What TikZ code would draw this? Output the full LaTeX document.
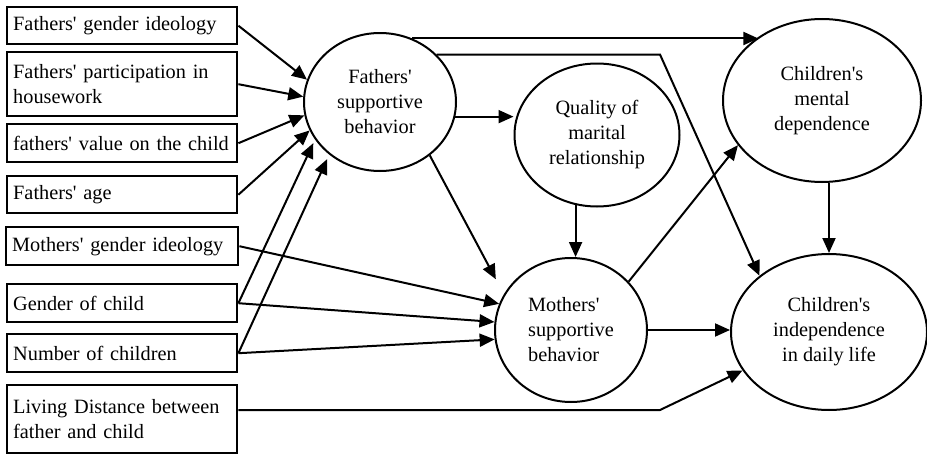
\documentclass[tikz,border=0pt]{standalone}
\usepackage{fontspec}
\setmainfont{Liberation Serif}
\usetikzlibrary{shapes.geometric,arrows.meta,calc}
\newcommand\apo{\textquotesingle}
\begin{document}
\begin{tikzpicture}[x=1pt,y=-1pt,
  txt/.style={font=\fontsize{20.3}{25}\selectfont},
  box/.style={txt, draw, line width=2.4pt, anchor=north west, minimum width=230pt,
    text width=218pt, align=left, inner xsep=6pt, inner ysep=0pt,
    execute at begin node={\hyphenpenalty=10000\exhyphenpenalty=10000}},
  ell/.style={txt, draw, ellipse, line width=2pt, align=center, inner sep=0pt},
  arr/.style={line width=2pt, -{Triangle[length=15pt,width=13pt]}},
  ln/.style={line width=2pt}]
\useasboundingbox (0,0) rectangle (927,455);

% boxes
\node[box, minimum height=37pt] (b1) at (6,6) {Fathers\apo\ gender ideology};
\node[box, minimum height=64pt] (b2) at (6,51) {Fathers\apo\ participation in\\housework};
\node[box, minimum height=38pt] (b3) at (6,123) {\mbox{fathers\apo\ value on the child}};
\node[box, minimum height=37pt] (b4) at (6,175) {Fathers\apo\ age};
\node[box, minimum height=38pt, minimum width=232pt, text width=220pt] (b5) at (5,226) {\mbox{Mothers\apo\ gender ideology}};
\node[box, minimum height=38pt] (b6) at (6,283) {Gender of child};
\node[box, minimum height=38pt] (b7) at (6,333) {Number of children};
\node[box, minimum height=68pt] (b8) at (6,384) {Living Distance between\\father and child\\[-6pt]};

% ellipses
\node[ell, minimum width=152pt, minimum height=138pt] (fs) at (380,102) {Fathers\apo\\supportive\\behavior};
\node[ell, minimum width=165pt, minimum height=143pt] (q) at (597,135) {Quality of\\marital\\relationship};
\node[ell, minimum width=198pt, minimum height=163pt] (cm) at (822,100.5) {Children\apo s\\mental\\dependence};
\node[ell, minimum width=152pt, minimum height=144pt, align=left] (ms) at (571,330) {Mothers\apo\\supportive\\behavior};
\node[ell, minimum width=196pt, minimum height=156pt] (ci) at (829,332) {Children\apo s\\independence\\in daily life};

% bend points
\coordinate (k1) at (660,54.5);
\coordinate (k2) at (660,410);

% arrows into fathers' supportive behavior
\draw[arr] (b1.east) -- (fs.163);
\draw[arr] (b2.east) -- (fs.176);
\draw[arr] (b3.east) -- (fs.190);
\draw[arr] (b4.east) -- (fs.202);
\draw[arr, shorten >=4pt] (b6.east) -- (fs.210);
\draw[arr, shorten >=5pt] (b7.east) -- (fs.226);

% arrows into mothers' supportive behavior
\draw[arr] (b5.east) -- (ms.160);
\draw[arr] (b6.east) -- (ms.174);
\draw[arr] (b7.east) -- (ms.187);
\draw[arr, shorten >=17pt] (fs.313) -- (ms.152);
\draw[arr] (q.253) -- (q.253 |- ms.north);

% fathers' to quality
\draw[arr] (fs.-11) -- (fs.-11 -| q.west);

% fathers' to children's mental dependence
\draw[arr] (fs.63) -- (fs.63 -| cm.135);

% fathers' to children's independence
\draw[arr] (fs.40) -- (k1) -- (ci.141);

% mothers' to children
\draw[arr] (ms.40) -- (cm.208);
\draw[arr] (ms.east) -- (ms.east -| ci.west);

% mental to independence
\draw[arr] (cm.south -| ci.north) -- (ci.north);

% living distance
\draw[arr] (b8.east |- k2) -- (k2) -- (ci.204);
\end{tikzpicture}
\end{document}
